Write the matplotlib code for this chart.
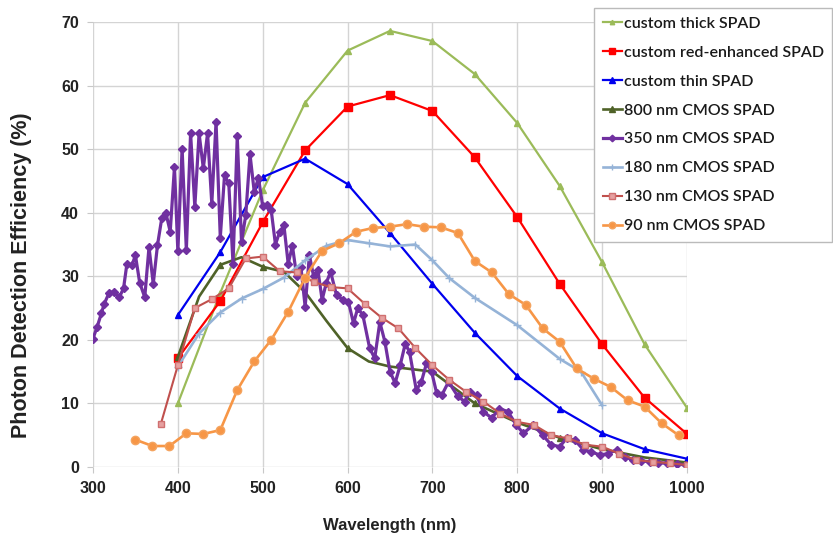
import matplotlib
matplotlib.use("Agg")
import matplotlib.pyplot as plt

# wavelength (nm) / photon detection efficiency (%)
thick_wl = [400, 450, 500, 550, 600, 650, 700, 750, 800, 850, 900, 950, 1000]
thick_pde = [10.0, 27.4, 43.5, 57.3, 65.5, 68.6, 67.0, 61.8, 54.1, 44.2, 32.2, 19.3, 9.3]

red_wl = [400, 450, 500, 550, 600, 650, 700, 750, 800, 850, 900, 950, 1000]
red_pde = [17.1, 26.1, 38.5, 49.8, 56.7, 58.5, 56.0, 48.7, 39.3, 28.8, 19.3, 10.9, 5.2]

thin_wl = [400, 450, 500, 550, 600, 650, 700, 750, 800, 850, 900, 950, 1000]
thin_pde = [23.9, 33.8, 45.6, 48.5, 44.5, 36.8, 28.8, 21.1, 14.3, 9.2, 5.3, 2.8, 1.3]

cmos800_wl = [400, 425, 450, 475, 500, 525, 550, 575, 600, 625, 650, 675, 700,
              725, 750, 775, 800, 850, 900, 950, 1000]
cmos800_pde = [17.3, 26.8, 31.8, 33.0, 31.5, 30.7, 27.5, 23.0, 18.7, 16.6, 15.8, 15.4, 15.0,
               12.5, 10.0, 8.5, 7.0, 4.6, 2.8, 1.5, 0.7]

cmos350_wl = [300, 305, 310, 313, 319, 325, 331, 336, 340, 346, 350, 355, 361, 366, 371,
              376, 381, 386, 391, 396, 400, 405, 410, 415, 420, 425, 430, 435, 440, 445,
              450, 455, 460, 465, 470, 475, 480, 485, 490, 495, 500, 505, 510, 515, 520,
              525, 530, 535, 540, 545, 550, 555, 560, 565, 570, 575, 580, 587, 595, 601,
              607, 612, 618, 626, 632, 638, 644, 650, 656, 662, 668, 673, 681, 687, 693,
              699, 705, 711, 719, 730, 738, 744, 752, 760, 770, 779, 789, 799, 807, 819,
              830, 840, 850, 858, 868, 878, 887, 897, 907, 917, 927, 936, 946, 956, 966,
              976, 988, 999]
cmos350_pde = [20.2, 22.1, 24.2, 25.6, 27.4, 27.6, 26.7, 28.1, 32.0, 31.8, 33.3, 29.0, 26.7,
               34.6, 28.8, 34.9, 39.1, 39.9, 37.0, 47.2, 33.9, 50.1, 34.1, 52.5, 40.9, 52.5,
               47.0, 52.5, 41.4, 54.3, 36.1, 45.9, 44.6, 32.0, 52.0, 35.4, 39.6, 49.2, 43.3,
               45.5, 41.0, 41.2, 40.4, 35.0, 37.0, 38.0, 32.0, 34.8, 30.0, 31.5, 25.2, 33.3,
               30.0, 31.0, 26.3, 29.0, 30.7, 27.0, 26.3, 26.0, 22.6, 25.0, 23.9, 18.7, 17.1,
               22.8, 19.7, 15.0, 13.2, 16.0, 19.4, 18.1, 12.1, 13.4, 16.3, 15.0, 11.6, 11.3,
               13.4, 11.1, 10.3, 11.8, 11.3, 8.7, 7.7, 9.2, 8.7, 6.6, 5.3, 6.6, 5.0, 3.5,
               3.2, 4.5, 4.2, 2.7, 2.4, 1.9, 2.1, 2.7, 1.6, 1.1, 1.0, 0.8, 0.7, 0.6, 0.5, 0.3]

cmos180_wl = [400, 425, 450, 475, 500, 525, 550, 575, 600, 625, 650, 680, 700, 720,
              750, 800, 850, 875, 900]
cmos180_pde = [15.8, 21.0, 24.3, 26.5, 28.0, 29.8, 32.5, 34.8, 35.7, 35.2, 34.7, 35.0, 32.5, 29.7,
               26.6, 22.3, 17.0, 15.0, 9.7]

cmos130_wl = [380, 400, 420, 440, 460, 480, 500, 520, 540, 560, 580, 600, 620, 640, 660,
              680, 700, 720, 740, 760, 780, 800, 820, 840, 860, 880, 900, 920, 940, 960,
              980, 1000]
cmos130_pde = [6.8, 16.0, 25.0, 26.4, 28.1, 32.8, 33.1, 30.8, 30.6, 29.1, 28.3, 28.1, 25.7,
               23.5, 21.8, 18.7, 16.0, 13.7, 11.8, 10.3, 8.4, 7.1, 6.6, 5.0, 4.5, 3.5, 3.2,
               2.1, 1.1, 0.8, 0.6, 0.3]

cmos90_wl = [350, 370, 390, 410, 430, 450, 470, 490, 510, 530, 550, 570, 590, 610, 630,
             650, 670, 690, 710, 730, 750, 770, 790, 810, 830, 850, 870, 890, 910, 930,
             950, 970, 990]
cmos90_pde = [4.3, 3.3, 3.3, 5.3, 5.2, 5.8, 12.1, 16.6, 20.0, 24.4, 29.8, 34.0, 35.2, 37.0,
              37.6, 37.8, 38.2, 37.8, 37.7, 36.8, 32.4, 30.6, 27.2, 25.5, 21.8, 19.7, 15.5,
              13.9, 12.6, 10.5, 9.5, 6.9, 5.0]

x_ticks = [300, 400, 500, 600, 700, 800, 900, 1000]
y_ticks = [0, 10, 20, 30, 40, 50, 60, 70]

fig = plt.figure(figsize=(8.33, 5.36), dpi=100)
ax = fig.add_axes([93 / 833, 1 - 467 / 536, 594 / 833, 445 / 536])

# Draw series (legend order = drawing order)
ax.plot(thick_wl, thick_pde, '-^', color='#9BBB59', lw=1.6, ms=4,
        label='custom thick SPAD')
ax.plot(red_wl, red_pde, '-s', color='#FF0000', lw=1.6, ms=6,
        label='custom red-enhanced SPAD')
ax.plot(thin_wl, thin_pde, '-^', color='#0000EE', lw=1.6, ms=5,
        label='custom thin SPAD')
ax.plot(cmos800_wl, cmos800_pde, '-^', color='#4F6228', lw=1.9, ms=5,
        markevery=[0, 2, 4, 8, 14, 17], label='800 nm CMOS SPAD')
ax.plot(cmos350_wl, cmos350_pde, '-D', color='#7030A0', lw=2.3, ms=4.2,
        label='350 nm CMOS SPAD')
ax.plot(cmos180_wl, cmos180_pde, '-+', color='#95B3D7', lw=1.9, ms=6,
        label='180 nm CMOS SPAD')
ax.plot(cmos130_wl, cmos130_pde, '-s', color='#C0504D', lw=1.5, ms=5,
        mfc='#E6A0A0', mec='#D07070', label='130 nm CMOS SPAD')
ax.plot(cmos90_wl, cmos90_pde, '-o', color='#F79646', lw=1.9, ms=6,
        mfc='#F79646', mec='#F4A460', label='90 nm CMOS SPAD')

# Axes look
ax.set_xlim(300, 1000)
ax.set_ylim(0, 70)
ax.set_xticks(x_ticks)
ax.set_yticks(y_ticks)
for s in ax.spines.values():
    s.set_visible(False)
ax.grid(True, color='#D4D4D4', lw=1.0)
ax.set_axisbelow(True)
ax.tick_params(axis='both', length=4, color='#C8C8C8', labelsize=11.5, pad=6)
for lab in ax.get_xticklabels() + ax.get_yticklabels():
    lab.set_fontweight('bold')
    lab.set_fontfamily('Liberation Sans')
    lab.set_color('#222222')

ax.set_xlabel('Wavelength (nm)', fontsize=12, fontweight='bold',
              family='Liberation Sans', color='#222222')
ax.xaxis.set_label_coords(0.5, -0.115)
ax.set_ylabel('Photon Detection Efficiency (%)', fontsize=15.5, fontweight='bold',
              family='Liberation Sans', color='#222222')
ax.yaxis.set_label_coords(-0.102, 0.43)

leg = fig.legend(loc='upper left', bbox_to_anchor=(594 / 833, 1 - 8 / 536),
                 borderaxespad=0, fancybox=False, framealpha=1, edgecolor='#BBBBBB',
                 prop={'family': 'Lato', 'size': 11.5, 'weight': 'semibold'},
                 handlelength=1.2, handletextpad=0.1, labelspacing=0.92,
                 borderpad=0.55, markerscale=0.8)
leg.get_frame().set_linewidth(1.0)
for t in leg.get_texts():
    t.set_color('#1A1A1A')

fig.savefig('out.png', dpi=100)
